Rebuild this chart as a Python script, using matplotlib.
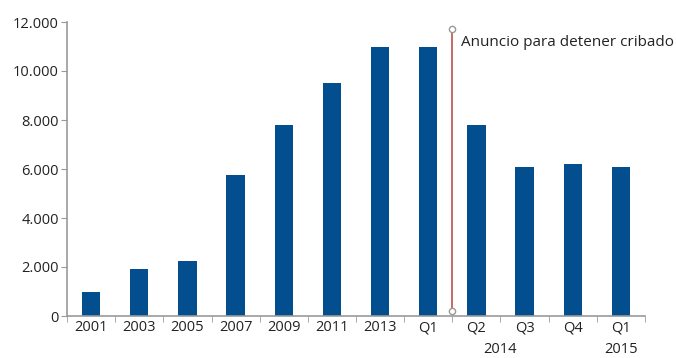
import matplotlib
matplotlib.use("Agg")
import matplotlib.pyplot as plt
from matplotlib.ticker import FuncFormatter, FixedLocator, NullFormatter

categories = ["2001", "2003", "2005", "2007", "2009", "2011", "2013", "Q1", "Q2", "Q3", "Q4", "Q1"]
values = [1000, 1900, 2250, 5750, 7800, 9500, 11000, 11000, 7800, 6100, 6200, 6100]
year_labels = ["2014", "2015"]
annotation = "Anuncio para detener cribado"
yticks = [0, 2000, 4000, 6000, 8000, 10000, 12000]

plt.rcParams['font.family'] = ['Open Sans', 'DejaVu Sans']

fig = plt.figure(figsize=(6.76, 3.58), dpi=100)
ax = fig.add_axes([67/676, 42/358, 578/676, 294/358])

x = list(range(len(categories)))
ax.bar(x, values, width=0.38, color="#024e8f", zorder=2)

ax.set_xlim(-0.5, len(categories) - 0.5)
ax.set_ylim(0, 12000)
ax.set_yticks(yticks)
ax.yaxis.set_major_formatter(FuncFormatter(lambda v, p: f"{int(v):,}".replace(",", ".")))

ax.set_xticks(x)
ax.set_xticklabels(categories)
ax.tick_params(axis="x", which="major", length=0, pad=3, labelsize=10.5, colors="#222222")
ax.xaxis.set_minor_locator(FixedLocator([i - 0.5 for i in range(len(categories) + 1)]))
ax.xaxis.set_minor_formatter(NullFormatter())
ax.tick_params(axis="x", which="minor", length=4, color="#999999")
ax.tick_params(axis="y", length=4, color="#999999", labelsize=10.5, labelcolor="#222222", pad=2)

for s in ["top", "right"]:
    ax.spines[s].set_visible(False)
for s in ["left", "bottom"]:
    ax.spines[s].set_color("#999999")
    ax.spines[s].set_linewidth(1.2)

# Year labels
ax.text(8.5, -0.09, year_labels[0], transform=ax.get_xaxis_transform(), ha="center", va="top", fontsize=10.5, color="#222222")
ax.text(11, -0.09, year_labels[1], transform=ax.get_xaxis_transform(), ha="center", va="top", fontsize=10.5, color="#222222")

# Announcement line
lx = 7.5
ax.plot([lx, lx], [200, 11700], color="#c0504d", lw=1.2, zorder=3, clip_on=False)
ax.plot([lx, lx], [200, 11700], ls="none", marker="o", ms=4.5, mfc="white", mec="#999999", mew=1, zorder=4, clip_on=False)
ax.text(lx + 0.17, 11150, annotation, ha="left", va="center", fontsize=11, color="#222222")

fig.savefig("out.png", dpi=100)
